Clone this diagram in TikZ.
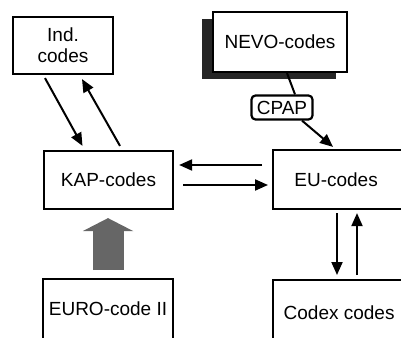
\documentclass[tikz,border=0pt]{standalone}
\usepackage{fontspec}
\setmainfont{Liberation Sans}
\usetikzlibrary{arrows.meta,shadows}
\tikzset{
  code-box/.style={draw,line width=2.2pt,fill=white,inner sep=0pt,align=center,
    minimum width=129pt,minimum height=58pt,font=\fontsize{19}{21}\selectfont},
  code-label/.style={draw,line width=2.2pt,rounded corners=4pt,fill=white,inner sep=0pt,
    minimum width=61pt,minimum height=24pt,font=\fontsize{19}{21}\selectfont},
  code-shadow/.style={drop shadow={shadow xshift=-11pt,shadow yshift=-7pt,
    fill=black!85,opacity=1}},
  arrow/.style={-{Triangle[length=13pt,width=11pt]},line width=2pt},
  arrow-fat/.style={-{Triangle[length=13pt,width=50pt]},line width=31pt,draw=black!60,
    shorten <=8pt,shorten >=8pt},
}
\begin{document}
\begin{tikzpicture}[x=1pt,y=-1pt]
  \useasboundingbox (0,0) rectangle (401,337);
  \clip (0,0) rectangle (401,337);
  % nodes
  \node[code-box,minimum width=100pt,minimum height=57pt] (ind) at (63,45.5) {Ind.\\codes};
  \node[code-box,code-shadow,minimum width=134pt,minimum height=60pt] (nevo) at (280,42) {NEVO-codes};
  \node[code-label] (cpap) at (282,107.5) {CPAP};
  \node[code-box] (kap) at (108.5,180) {KAP-codes};
  \node[code-box,anchor=west,minimum width=158pt,minimum height=59pt] (eu) at (272,179.5)
    {\makebox[126pt]{EU-codes}\hspace{32pt}};
  \node[code-box,anchor=north,minimum width=130pt,minimum height=60pt] (euro) at (108,278) {EURO-code II};
  \node[code-box,anchor=north west,minimum width=158pt,minimum height=66pt] (codex) at (272,279)
    {\makebox[132pt]{Codex codes}\hspace{26pt}};
  % connectors
  \draw[arrow] ([xshift=-18pt,yshift=-3pt]ind.south) -- ([xshift=-26pt,yshift=4pt]kap.north);
  \draw[arrow] ([xshift=11.5pt,yshift=4pt]kap.north) -- ([xshift=19pt,yshift=-4pt]ind.south);
  \draw[line width=2pt] ([xshift=7pt]nevo.south) -- ([xshift=13pt]cpap.north);
  \draw[arrow] ([xshift=20pt]cpap.south) -- ([xshift=61pt,yshift=2pt]eu.north west);
  \draw[arrow] ([xshift=-10pt,yshift=14.5pt]eu.west) -- ([xshift=5pt,yshift=15pt]kap.east);
  \draw[arrow] ([xshift=9pt,yshift=-5pt]kap.east) -- ([xshift=-4pt,yshift=-5.5pt]eu.west);
  \draw[arrow] ([xshift=65pt,yshift=-3pt]eu.south west) -- ([xshift=65pt,yshift=4pt]codex.north west);
  \draw[arrow] ([xshift=85pt,yshift=4pt]codex.north west) -- ([xshift=85pt,yshift=-3pt]eu.south west);
  \draw[arrow-fat] (euro.north) -- (euro.north |- kap.south);
\end{tikzpicture}
\end{document}
